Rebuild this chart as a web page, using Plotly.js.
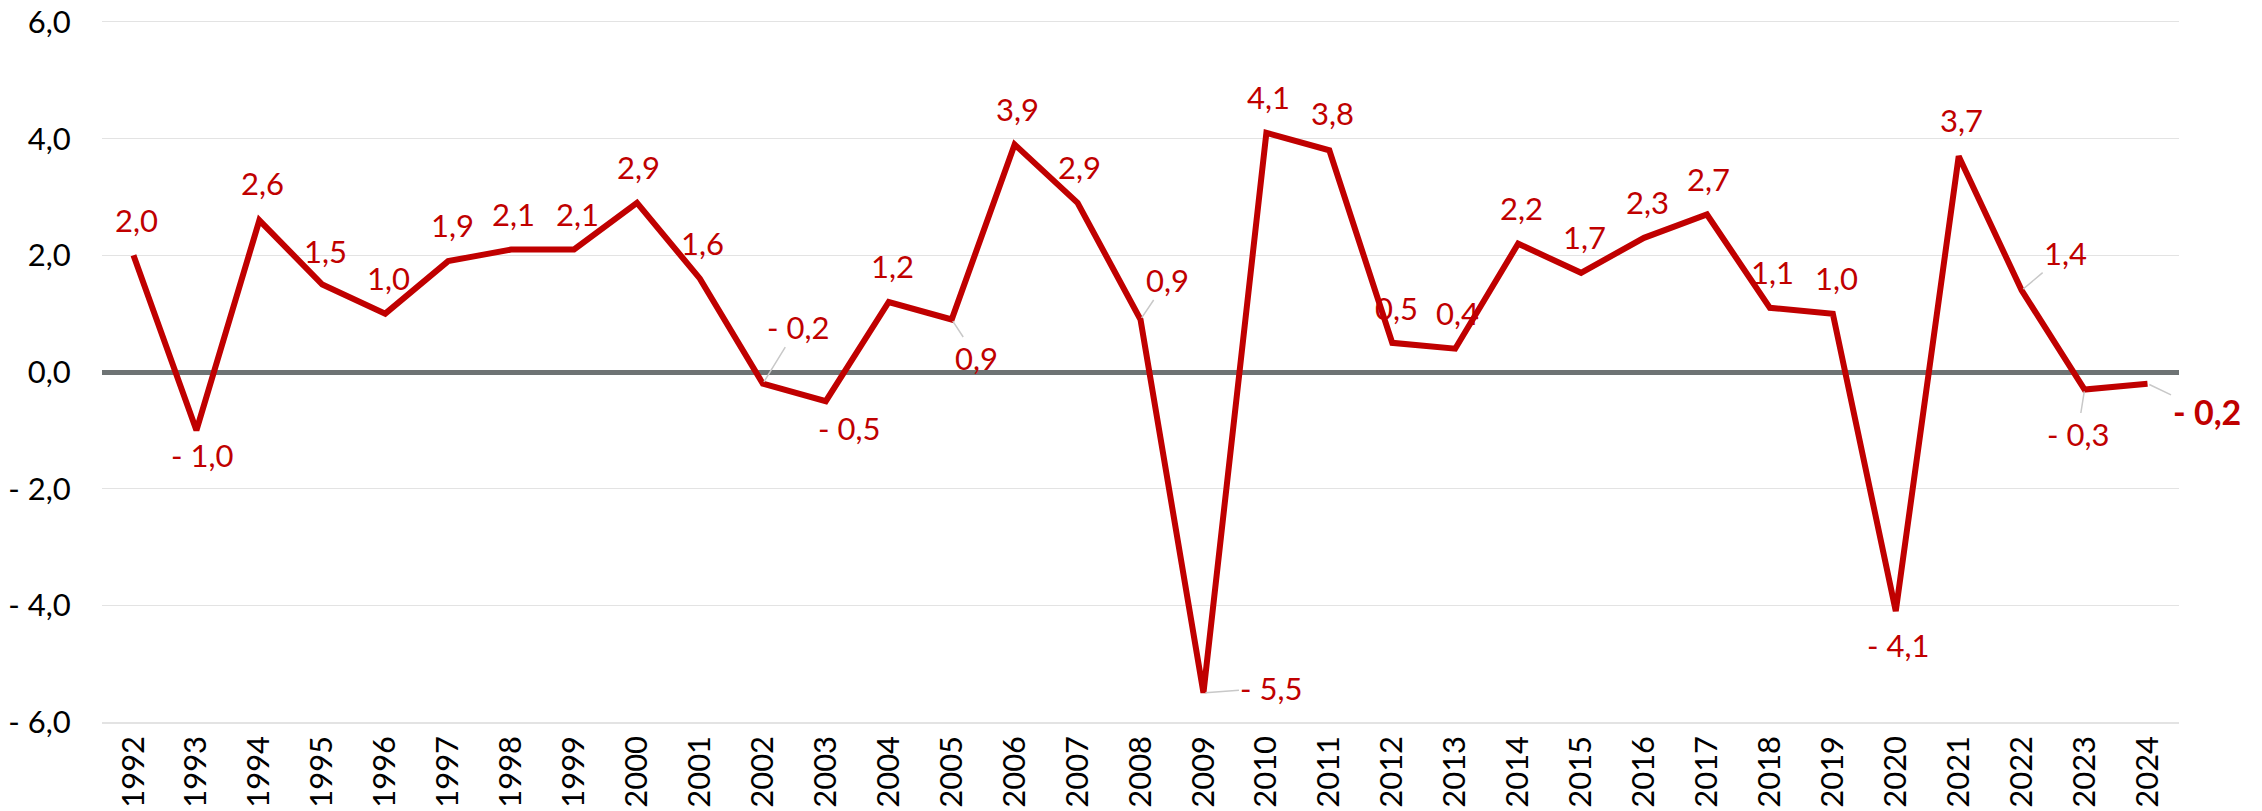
<!DOCTYPE html>
<html>
<head>
<meta charset="utf-8">
<script src="https://cdn.plot.ly/plotly-3.0.1.min.js"></script>
<style>html,body{margin:0;padding:0;background:#fff;}#chart{width:2262px;height:811px;}#err{position:absolute;left:300px;top:300px;color:blue;font-size:20px;}</style>
</head>
<body>
<div id="chart"></div>
<div id="err"></div>
<script>
// ---- data ----
const years = ["1992","1993","1994","1995","1996","1997","1998","1999","2000","2001","2002","2003","2004","2005","2006","2007","2008","2009","2010","2011","2012","2013","2014","2015","2016","2017","2018","2019","2020","2021","2022","2023","2024"];
const growth = [2.0,-1.0,2.6,1.5,1.0,1.9,2.1,2.1,2.9,1.6,-0.2,-0.5,1.2,0.9,3.9,2.9,0.9,-5.5,4.1,3.8,0.5,0.4,2.2,1.7,2.3,2.7,1.1,1.0,-4.1,3.7,1.4,-0.3,-0.2];
const yTickVals = [-6,-4,-2,0,2,4,6];
const yTickText = ["- 6,0","- 4,0","- 2,0","0,0","2,0","4,0","6,0"];

// ---- label placement (pixel offsets, dy positive = down) ----
const labelPos = {
  "1992":[3,-35],"1993":[6,25],"1994":[3,-37],"1995":[3,-34],"1996":[3,-36],
  "1997":[4,-36],"1998":[2,-36],"1999":[3,-36],"2000":[2,-36],"2001":[3,-36],
  "2002":[35,-57,true],"2003":[23,27],"2004":[4,-36],"2005":[25,38,true],
  "2006":[3,-36],"2007":[2,-36],"2008":[27,-40,true],"2009":[68,-5,true],
  "2010":[2,-36],"2011":[3,-37],"2012":[4,-35],"2013":[2,-36],"2014":[3,-36],
  "2015":[3,-36],"2016":[3,-36],"2017":[2,-36],"2018":[3,-36],"2019":[4,-36],
  "2020":[2,34],"2021":[3,-36],"2022":[44,-37,true],"2023":[-7,44,true],"2024":[59,28,true]
};

function fmt(v){
  const s = Math.abs(v).toFixed(1).replace('.', ',');
  return v < 0 ? '- ' + s : s;
}

const FONT = 'Lato, "Open Sans", sans-serif';
const RED = '#C00000';

const annotations = years.map((yr, i) => {
  const p = labelPos[yr];
  const last = i === years.length - 1;
  const font = {family: FONT, size: last ? 34 : 31, color: RED};
  const text = last ? '<b>' + fmt(growth[i]) + '</b>' : fmt(growth[i]);
  if (p[2]) {
    return {x: i, y: growth[i], xref: 'x', yref: 'y', text: text, font: font,
      showarrow: true, arrowhead: 0, arrowwidth: 1.5, arrowcolor: '#C8C8C8',
      ax: p[0], ay: p[1], standoff: 2};
  }
  return {x: i, y: growth[i], xref: 'x', yref: 'y', text: text, font: font,
    showarrow: false, xshift: p[0], yshift: -p[1]};
});

const trace = {
  x: years, y: growth, type: 'scatter', mode: 'lines',
  line: {color: RED, width: 6, shape: 'linear'},
  hoverinfo: 'skip'
};

const layout = {
  width: 2262, height: 811,
  margin: {l: 102, r: 83, t: 22, b: 89},
  paper_bgcolor: '#ffffff', plot_bgcolor: '#ffffff',
  showlegend: false,
  font: {family: FONT, size: 31, color: '#000'},
  xaxis: {
    type: 'category', range: [-0.5, years.length - 0.5],
    tickangle: -90, tickfont: {family: FONT, size: 31, color: '#000'},
    showgrid: false, zeroline: false, ticks: '',
    showline: true, mirror: true, linecolor: '#E3E3E3', linewidth: 1.5,
    automargin: false
  },
  yaxis: {
    range: [-6, 6], tickvals: yTickVals, ticktext: yTickText,
    tickfont: {family: FONT, size: 31, color: '#000'},
    showgrid: true, gridcolor: '#E3E3E3', gridwidth: 1.5,
    zeroline: true, zerolinecolor: '#6E7374', zerolinewidth: 5,
    showline: false, ticks: 'outside', ticklen: 24, tickcolor: 'rgba(0,0,0,0)',
    automargin: false
  },
  annotations: annotations
};

try {
  Plotly.newPlot('chart', [trace], layout, {displayModeBar: false, staticPlot: true})
    .catch(e => { document.getElementById('err').textContent = 'ERR ' + e; });
} catch (e) {
  document.getElementById('err').textContent = 'ERR ' + e;
}
</script>
</body>
</html>
